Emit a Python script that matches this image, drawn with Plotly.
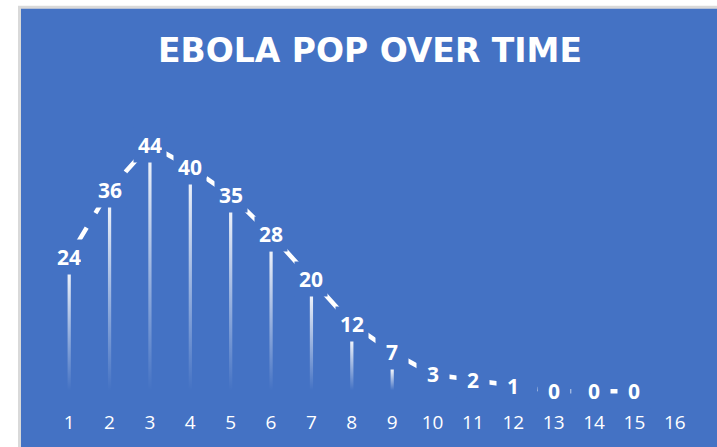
import plotly.graph_objects as go

# Ebola population per time step
days = list(range(1, 17))
population = [24, 36, 44, 40, 35, 28, 20, 12, 7, 3, 2, 1, 0, 0, 0]

BLUE = "#4472C4"
Y_MAX = 50          # top of the value axis
LABEL_LIFT = 3.0    # labels (and the connecting line) sit this many units above each value
FADE_FLOOR = 3.5    # value below which the drop bars are fully transparent
HALF_W = 0.04       # half width of a drop bar, in day units

fig = go.Figure()

# thin drop bars with a white-to-transparent vertical gradient
for d, v in zip(days, population):
    if v <= 0:
        continue
    fig.add_trace(go.Scatter(
        x=[d - HALF_W, d - HALF_W, d + HALF_W, d + HALF_W],
        y=[0, v, v, 0],
        mode="lines",
        fill="toself",
        line=dict(width=0, color="rgba(0,0,0,0)"),
        fillgradient=dict(
            type="vertical",
            colorscale=[[0, "rgba(255,255,255,0)"], [1, "rgba(255,255,255,0.9)"]],
            start=FADE_FLOOR,
            stop=max(v, FADE_FLOOR + 0.01),
        ),
        hoverinfo="skip",
        showlegend=False,
    ))

# dashed line joining the value labels
n = len(population)
fig.add_trace(go.Scatter(
    x=days[:n],
    y=population,
    yaxis="y2",
    mode="lines",
    line=dict(color="white", width=4.5, dash="34px,17px"),
    hoverinfo="skip",
    showlegend=False,
))

# value labels on boxes that mask the line
for d, v in zip(days, population):
    fig.add_annotation(
        x=d, y=v, xref="x", yref="y2",
        text=str(v),
        showarrow=False,
        font=dict(family="Open Sans", size=21, color="white", weight="bold"),
        bgcolor=BLUE,
        width=24,
        height=26,
        borderpad=4,
    )

fig.update_layout(
    width=717,
    height=447,
    margin=dict(l=49, r=22, t=128, b=37),
    paper_bgcolor="white",
    plot_bgcolor="rgba(0,0,0,0)",
    title=dict(
        text="EBOLA POP OVER TIME",
        font=dict(family="DejaVu Sans", size=33, color="white", weight="bold"),
        x=0.516, xref="container", xanchor="center",
        y=1 - 50 / 447, yref="container", yanchor="middle",
    ),
    xaxis=dict(
        range=[0.5, 16.5],
        tickmode="array",
        tickvals=days,
        ticktext=[str(d) for d in days],
        showgrid=False, zeroline=False, showline=False, ticks="",
        tickfont=dict(family="Open Sans", size=19, color="white"),
        ticklabelstandoff=1,
    ),
    yaxis=dict(range=[0, Y_MAX], visible=False, fixedrange=True),
    yaxis2=dict(range=[-LABEL_LIFT, Y_MAX - LABEL_LIFT], overlaying="y",
                visible=False, fixedrange=True),
    shapes=[dict(
        type="rect", xref="paper", yref="paper", layer="below",
        x0=(19.5 - 49) / 646, x1=(722 - 49) / 646,
        y0=1 - (452 - 128) / 282, y1=1 + (128 - 6.5) / 282,
        fillcolor=BLUE, line=dict(color="#D9D9D9", width=3),
    )],
)

fig.write_html("out.html")
